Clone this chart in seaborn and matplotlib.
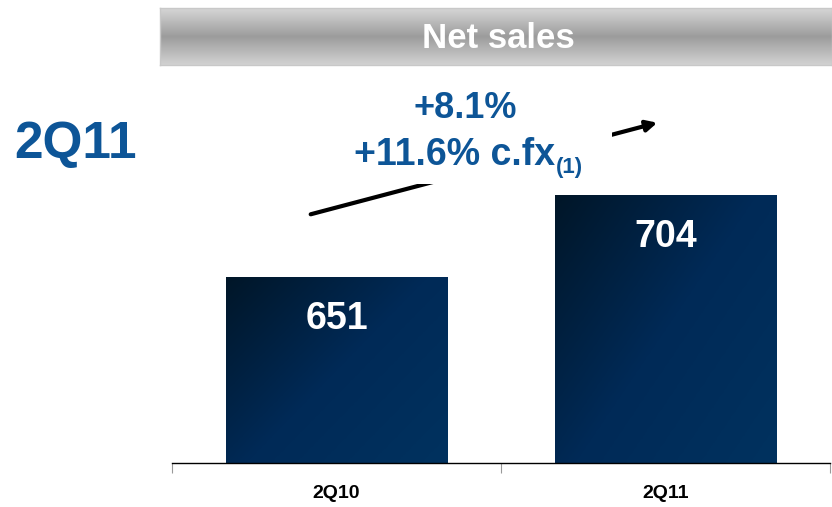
import numpy as np
import pandas as pd
import seaborn as sns
import matplotlib.pyplot as plt
from matplotlib.colors import LinearSegmentedColormap
from matplotlib.patches import Rectangle, FancyArrowPatch
from matplotlib.text import Annotation

quarters = ["2Q10", "2Q11"]
sales = [651, 704]
title = "Net sales"
period = "2Q11"
growth_lines = ["+8.1%", "+11.6% c.fx"]
growth_note = "(1)"

df = pd.DataFrame({"Quarter": quarters, "Sales": sales})

sns.set_theme(style="white")
plt.rcParams["font.family"] = ["Liberation Sans", "DejaVu Sans"]

W, H = 832, 507
fig = plt.figure(figsize=(W / 100, H / 100), dpi=100)
fig.patch.set_facecolor("white")

def fx(px):
    return px / W

def fy(py):
    return 1 - py / H

blue = "#0d5597"

# main bar axes
ax = fig.add_axes([fx(172), fy(463), fx(830) - fx(172), fy(65) - fy(463)])
sns.barplot(data=df, x="Quarter", y="Sales", color="#01244a", width=0.672, ax=ax)

# diagonal navy gradient inside each bar
navy = LinearSegmentedColormap.from_list("navy", ["#011628", "#002a57", "#00325f"])
gx, gy = np.meshgrid(np.linspace(0, 1, 200), np.linspace(0, 1, 200))
grad = gx * 0.55 + gy * 0.45
for p in ax.patches:
    x0, w, top = p.get_x(), p.get_width(), p.get_height()
    im = ax.imshow(grad, cmap=navy, extent=[x0, x0 + w, 531, top],
                   origin="upper", aspect="auto", zorder=2)
    im.set_clip_path(p)
    ax.text(x0 + w / 2, top - 27, f"{top:.0f}", ha="center", va="center",
            color="white", fontsize=27, fontweight="bold", zorder=3)
ax.set_xlim(-0.5, 1.5)
ax.set_ylim(531, 788)

sns.despine(ax=ax, left=True)
ax.spines["bottom"].set_color("black")
ax.spines["bottom"].set_linewidth(1)
ax.set_yticks([])
ax.set_xlabel("")
ax.set_ylabel("")
ax.set_xticks([0, 1])
ax.set_xticklabels(quarters, fontsize=14, fontweight="bold", color="black")
ax.tick_params(axis="x", which="major", length=0, pad=16)
ax.set_xticks([-0.5, 0.5, 1.5], minor=True)
ax.tick_params(axis="x", which="minor", length=7, width=0.8, color="#999999",
               bottom=True)

# header band
hax = fig.add_axes([fx(160), fy(65), fx(832) - fx(160), fy(8) - fy(65)])
band = LinearSegmentedColormap.from_list("band", ["#d6d6d6", "#9c9c9c", "#d2d2d2"])
hax.imshow(np.linspace(0, 1, 100).reshape(-1, 1), cmap=band, aspect="auto",
           extent=[0, 1, 0, 1])
hax.set_xticks([])
hax.set_yticks([])
for s in hax.spines.values():
    s.set_color("#c8c8c8")
    s.set_linewidth(1)
hax.text(0.503, 0.47, title, ha="center", va="center", color="white",
         fontsize=25, fontweight="bold", transform=hax.transAxes)

# period label
fig.text(fx(75), fy(145), period, ha="center", va="center", color=blue,
         fontsize=37, fontweight="bold")

# growth arrow, broken by a white box behind the text
fig.add_artist(FancyArrowPatch(
    (fx(308), fy(215)), (fx(660), fy(122)), transform=fig.transFigure,
    arrowstyle="-|>", mutation_scale=16, lw=3, color="black", zorder=5))
fig.add_artist(Rectangle((fx(325), fy(184)), fx(612) - fx(325), fy(86) - fy(184),
                         transform=fig.transFigure, facecolor="white",
                         edgecolor="none", zorder=6))
fig.text(fx(465), fy(108), growth_lines[0], ha="center", va="center", color=blue,
         fontsize=26, fontweight="bold", zorder=7)
t2 = fig.text(fx(455), fy(155), growth_lines[1], ha="center", va="center",
              color=blue, fontsize=27, fontweight="bold", zorder=7)
note = Annotation(growth_note, xy=(1.0, 0.15), xycoords=t2, ha="left", va="center",
                  color=blue, fontsize=16, fontweight="bold", zorder=7)
fig.add_artist(note)

fig.savefig("out.png", dpi=100)
